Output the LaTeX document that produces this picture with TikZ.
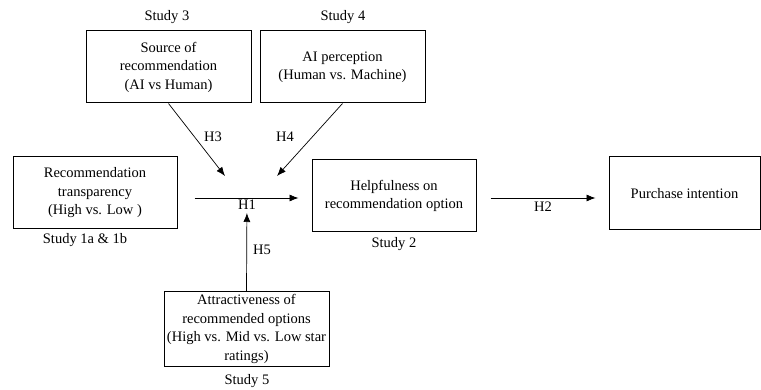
\documentclass[tikz,border=0pt]{standalone}
\usepackage{fontspec}
\setmainfont{Liberation Serif}
\usetikzlibrary{arrows.meta}

\tikzset{
  every node/.style={font=\fontsize{14.5}{18.5}\selectfont, inner sep=0pt},
  varbox/.style={draw, line width=1pt, align=center, minimum width=#1},
  varbox/.default=165pt,
  link/.style={line width=0.7pt, -{Latex[length=9pt,width=7pt]}},
  caption/.style={anchor=center},
  hyp/.style={anchor=center}
}

\begin{document}
\begin{tikzpicture}[x=1pt, y=-1pt]
  \useasboundingbox (0,0) rectangle (761,390);

  % variables
  \node[varbox, minimum height=72pt] (src) at (168.5,67)
    {Source of\\recommendation\\(AI vs Human)};
  \node[varbox, minimum height=72pt] (aip) at (342.5,67)
    {AI perception\\(Human vs. Machine)};
  \node[varbox=164pt, minimum height=72pt] (rt) at (95,193)
    {Recommendation\\transparency\\(High vs. Low )};
  \node[varbox=164pt, minimum height=72pt] (help) at (394,196)
    {Helpfulness on\\recommendation option};
  \node[varbox=151pt, minimum height=73pt] (pur) at (684.5,193.5)
    {Purchase intention};
  \node[varbox, minimum height=74pt] (att) at (246.5,329)
    {Attractiveness of\\recommended options\\(High vs. Mid vs. Low star\\ratings)};

  % study labels
  \node[caption] (s3)  at (167,17)  {Study 3};
  \node[caption] (s4)  at (343,17)  {Study 4};
  \node[caption] (s1)  at (85,240)  {Study 1a \& 1b};
  \node[caption] (s2)  at (394,244) {Study 2};
  \node[caption] (s5)  at (247,381) {Study 5};

  % meeting point of the moderators on the main path
  \coordinate (j)   at (247,198);
  \coordinate (h3e) at (225,176);
  \coordinate (h4e) at (277,176);

  % main effects
  \draw[link, shorten <=17pt, shorten >=13pt] (rt.east |- j) -- (help.west |- j);
  \draw[link, shorten <=14pt, shorten >=13pt] (help.east |- j) -- (pur.west |- j);

  % moderators
  \draw[link] (src.south) -- (h3e);
  \draw[link] (aip.south) -- (h4e);
  \draw[link, shorten >=15pt] (att.north) -- (j);

  % hypothesis labels
  \node[hyp] (H1) at (247,205) {H1};
  \node[hyp] (H2) at (543,207) {H2};
  \node[hyp] (H3) at (213,137) {H3};
  \node[hyp] (H4) at (285,137) {H4};
  \node[hyp] (H5) at (262,250) {H5};
\end{tikzpicture}
\end{document}
